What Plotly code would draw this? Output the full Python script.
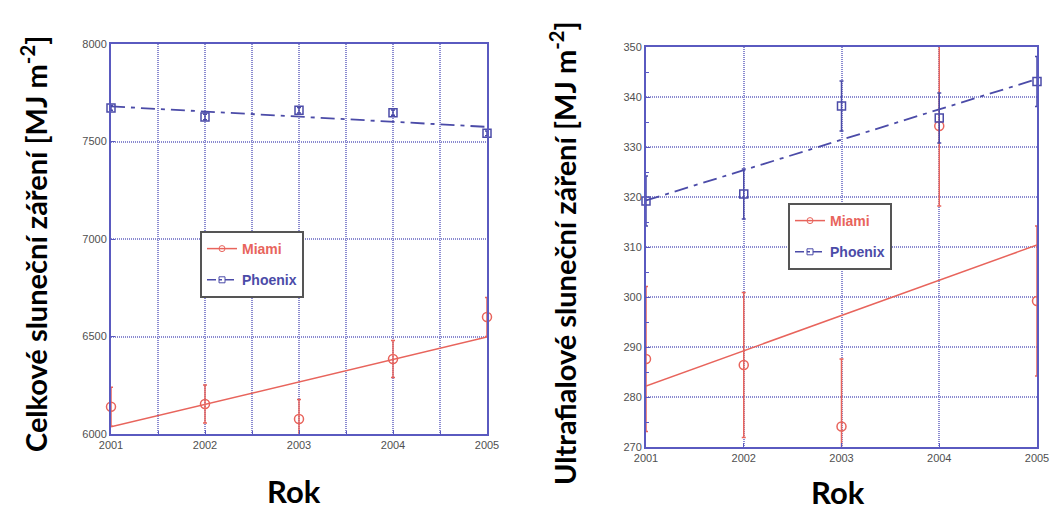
import plotly.graph_objects as go

# ---- data ----
years = [2001, 2002, 2003, 2004, 2005]

# Left: total solar radiation [MJ m-2]
tot_miami = [6140, 6154, 6077, 6385, 6600]
tot_miami_err = [100, 97, 100, 95, 100]
tot_phoenix = [7672, 7626, 7660, 7648, 7542]
tot_phoenix_err = [12, 14, 14, 14, 12]
tot_miami_fit = [6037, 6497]      # fit at 2001, 2005
tot_phoenix_fit = [7680, 7575]

# Right: UV solar radiation [MJ m-2]
uv_miami = [287.6, 286.4, 274.1, 334.2, 299.2]
uv_miami_err = [14.5, 14.5, 13.5, 16.0, 15.0]
uv_phoenix = [319.2, 320.6, 338.2, 335.8, 343.1]
uv_phoenix_err = [5, 5, 5, 5, 5]
uv_miami_fit = [282.2, 310.4]
uv_phoenix_fit = [319.3, 343.6]

fit_years = [2001, 2005]

left_yticks = [6000, 6500, 7000, 7500, 8000]
right_yticks = [270, 280, 290, 300, 310, 320, 330, 340, 350]

RED = "#e8645c"
BLUE = "#4b4ba8"
FRAME = "#5a5ac0"
GRID = "#8a8ad0"
DASHDOT = "14px,6px,4px,6px"

W, H = 1056, 513
fig = go.Figure()


def add_panel(xa, ya, leg, miami, merr, phx, perr, mfit, pfit, clip_m):
    fig.add_trace(go.Scatter(x=years, y=miami, mode="markers", xaxis=xa, yaxis=ya,
                             marker=dict(symbol="circle-open", size=9, color=RED, line=dict(width=1.5)),
                             error_y=dict(type="data", array=merr, color=RED, thickness=1.5, width=2),
                             cliponaxis=clip_m, showlegend=False))
    fig.add_trace(go.Scatter(x=years, y=phx, mode="markers", xaxis=xa, yaxis=ya,
                             marker=dict(symbol="square-open", size=8, color=BLUE, line=dict(width=1.5)),
                             error_y=dict(type="data", array=perr, color=BLUE, thickness=1.5, width=2),
                             cliponaxis=False, showlegend=False))
    fig.add_trace(go.Scatter(x=fit_years, y=mfit, mode="lines", xaxis=xa, yaxis=ya,
                             line=dict(color=RED, width=1.5), showlegend=False))
    fig.add_trace(go.Scatter(x=fit_years, y=pfit, mode="lines", xaxis=xa, yaxis=ya,
                             line=dict(color=BLUE, width=1.8, dash=DASHDOT), showlegend=False))
    # legend entries
    fig.add_trace(go.Scatter(x=[None], y=[None], mode="lines+markers", xaxis=xa, yaxis=ya,
                             name="<b><span style='color:%s'>Miami</span></b>" % RED,
                             legend=leg, legendgroup=leg + "m",
                             line=dict(color=RED, width=1.5),
                             marker=dict(symbol="circle-open", size=6, color=RED)))
    fig.add_trace(go.Scatter(x=[None], y=[None], mode="lines+markers", xaxis=xa, yaxis=ya,
                             name="<b><span style='color:%s'>Phoenix</span></b>" % BLUE,
                             legend=leg, legendgroup=leg + "p",
                             line=dict(color=BLUE, width=1.5, dash="dashdot"),
                             marker=dict(symbol="square-open", size=6, color=BLUE)))


add_panel("x", "y", "legend", tot_miami, tot_miami_err, tot_phoenix, tot_phoenix_err,
          tot_miami_fit, tot_phoenix_fit, False)
add_panel("x2", "y2", "legend2", uv_miami, uv_miami_err, uv_phoenix, uv_phoenix_err,
          uv_miami_fit, uv_phoenix_fit, True)

tickfont = dict(family="Liberation Sans, Arial", size=11, color="#505050")
axis_common = dict(showline=True, mirror=True, linecolor=FRAME, linewidth=2,
                   showgrid=True, gridcolor=GRID, griddash="1px,1px", gridwidth=1.5,
                   zeroline=False, ticks="inside", tickcolor=FRAME, ticklen=4,
                   tickfont=tickfont, automargin=False)

legend_common = dict(xanchor="left", yanchor="top",
                     bgcolor="white", bordercolor="#555555", borderwidth=2,
                     font=dict(family="Liberation Sans, Arial", size=14),
                     traceorder="grouped", tracegroupgap=10, itemwidth=30)

fig.update_layout(
    width=W, height=H,
    margin=dict(l=0, r=0, t=0, b=0, autoexpand=False),
    paper_bgcolor="white", plot_bgcolor="white",
    showlegend=True,
    xaxis=dict(domain=[111 / W, 487 / W], range=[2001, 2005], anchor="y",
               tickvals=years, ticktext=[str(v) for v in years],
               minor=dict(dtick=0.5, tick0=2001, showgrid=True, gridcolor=GRID,
                          griddash="1px,1px", gridwidth=1.5,
                          ticks="inside", ticklen=3, tickcolor=FRAME),
               **axis_common),
    yaxis=dict(domain=[1 - 434 / H, 1 - 44 / H], range=[6000, 8000], anchor="x",
               tickvals=left_yticks, **axis_common),
    xaxis2=dict(domain=[646 / W, 1037 / W], range=[2001, 2005], anchor="y2",
                tickvals=years, ticktext=[str(v) for v in years], **axis_common),
    yaxis2=dict(domain=[1 - 447 / H, 1 - 47 / H], range=[270, 350], anchor="x2",
                tickvals=right_yticks,
                minor=dict(dtick=5, ticks="inside", ticklen=3, tickcolor=FRAME, showgrid=False),
                **axis_common),
    legend=dict(x=200 / W, y=1 - 231 / H, **legend_common),
    legend2=dict(x=788 / W, y=1 - 203 / H, **legend_common),
)

title_font = dict(family="Lato, Noto Sans", size=29, color="black")
fig.add_annotation(text="<b>Celkové sluneční záření [MJ m<sup>-2</sup>]</b>",
                   xref="paper", yref="paper", x=34 / W, y=1 - 244 / H,
                   textangle=-90, showarrow=False, font=title_font,
                   xanchor="center", yanchor="middle")
fig.add_annotation(text="<b>Ultrafialové sluneční záření [MJ m<sup>-2</sup>]</b>",
                   xref="paper", yref="paper", x=563 / W, y=1 - 253 / H,
                   textangle=-90, showarrow=False, font=title_font,
                   xanchor="center", yanchor="middle")
fig.add_annotation(text="<b>Rok</b>", xref="paper", yref="paper",
                   x=294 / W, y=1 / H, showarrow=False,
                   font=dict(family="Lato, Noto Sans", size=31, color="black"),
                   xanchor="center", yanchor="bottom")
fig.add_annotation(text="<b>Rok</b>", xref="paper", yref="paper",
                   x=838 / W, y=0, showarrow=False,
                   font=dict(family="Lato, Noto Sans", size=31, color="black"),
                   xanchor="center", yanchor="bottom")

fig.write_html("out.html")
